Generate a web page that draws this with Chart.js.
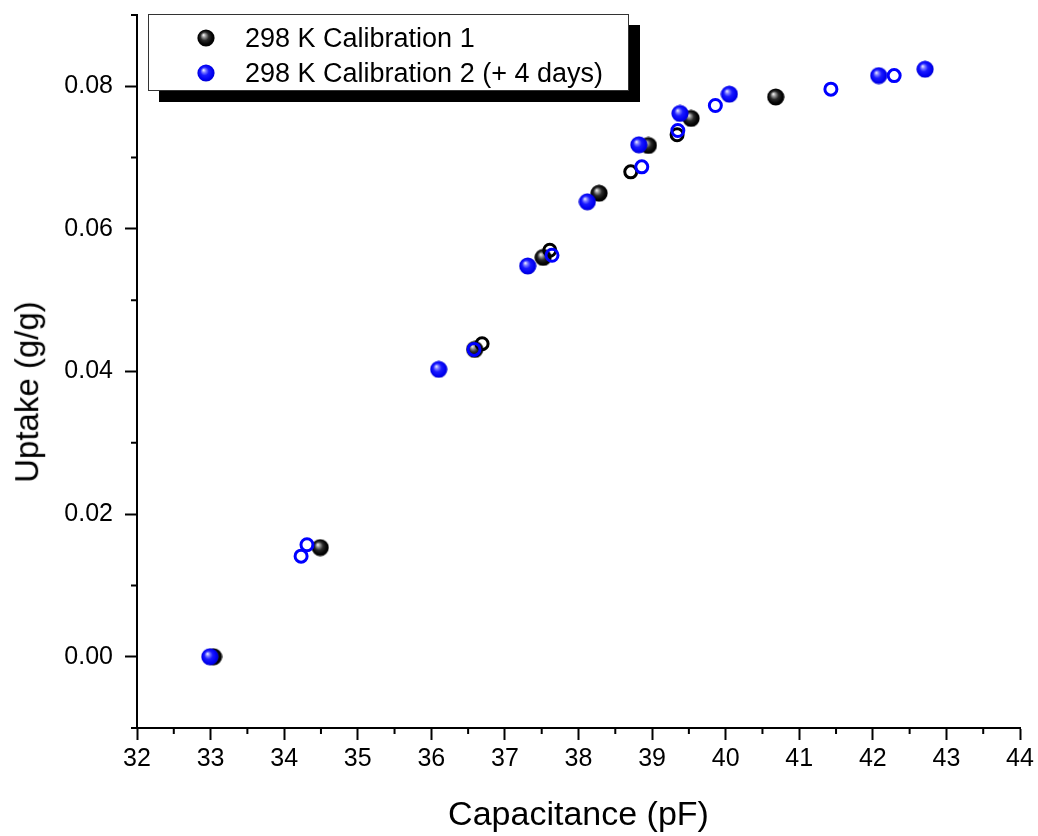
<!DOCTYPE html>
<html>
<head>
<meta charset="utf-8">
<script src="https://cdn.jsdelivr.net/npm/chart.js@4.4.1/dist/chart.umd.min.js"></script>
<style>
  html, body { margin: 0; padding: 0; background: #fff; }
  #wrap { position: relative; width: 1038px; height: 836px; }
  #legend {
    position: absolute; left: 148px; top: 14px; width: 479px; height: 75px;
    background: #fff; border: 1px solid #333; box-shadow: 11px 11px 0 #000;
    font-family: "Liberation Sans", Arial, sans-serif; font-size: 27px; color: #000;
  }
  .item { position: absolute; left: 0; height: 34px; line-height: 34px; white-space: nowrap; }
  .item img { position: absolute; left: 48px; top: 8px; width: 18px; height: 18px; }
  .item span { position: absolute; left: 96px; top: 0; }
  #ytitle {
    position: absolute; left: 27px; top: 392px; white-space: nowrap;
    font-family: "Liberation Sans", Arial, sans-serif; font-size: 33px; line-height: 1.2; color: #000;
    transform: translate(-50%, -50%) rotate(-90deg);
  }
</style>
</head>
<body>
<div id="wrap">
  <canvas id="c" width="1038" height="836"></canvas>
  <div id="legend"></div>
  <div id="ytitle"></div>
</div>
<script>
// ---- data ----
const cal1SolidX = [33.04, 34.49, 36.59, 37.52, 38.28, 38.95, 39.53, 40.68];
const cal1SolidY = [0.0000, 0.0153, 0.0431, 0.0560, 0.0650, 0.0717, 0.0755, 0.0785];

const cal1OpenX = [36.69, 37.61, 38.71, 39.34];
const cal1OpenY = [0.0439, 0.0570, 0.0680, 0.0732];

const cal2SolidX = [32.99, 36.10, 37.31, 38.12, 38.82, 39.38, 40.05, 42.08, 42.71];
const cal2SolidY = [0.0000, 0.0403, 0.0548, 0.0638, 0.0718, 0.0762, 0.0789, 0.0815, 0.0824];

const cal2OpenX = [34.23, 34.31, 36.58, 37.64, 38.86, 39.35, 39.86, 41.43, 42.29];
const cal2OpenY = [0.0141, 0.0157, 0.0431, 0.0563, 0.0687, 0.0738, 0.0773, 0.0796, 0.0815];

const seriesNames = ['298 K Calibration 1', '298 K Calibration 2 (+ 4 days)'];
const xTitle = 'Capacitance (pF)';
const yTitle = 'Uptake (g/g)';

const xTicks = [32, 33, 34, 35, 36, 37, 38, 39, 40, 41, 42, 43, 44];
const xMinorTicks = [32.5, 33.5, 34.5, 35.5, 36.5, 37.5, 38.5, 39.5, 40.5, 41.5, 42.5, 43.5];
const yTicks = [0.00, 0.02, 0.04, 0.06, 0.08];
const yTickLabels = ['0.00', '0.02', '0.04', '0.06', '0.08'];
const yMinorTicks = [-0.01, 0.01, 0.03, 0.05, 0.07, 0.09];

const FONT = '"Liberation Sans", Arial, sans-serif';

function pts(xs, ys) { return xs.map((x, i) => ({ x: x, y: ys[i] })); }

function sphere(stops) {
  const c = document.createElement('canvas');
  c.width = 18; c.height = 18;
  const g = c.getContext('2d');
  const grd = g.createRadialGradient(6.5, 6, 0.3, 9, 9, 9);
  stops.forEach(s => grd.addColorStop(s[0], s[1]));
  g.fillStyle = grd;
  g.beginPath(); g.arc(9, 9, 8.6, 0, Math.PI * 2); g.fill();
  return c;
}
const blackSphere = sphere([[0, '#f0f0f0'], [0.18, '#9a9a9a'], [0.45, '#2a2a2a'], [0.75, '#050505'], [1, '#000']]);
const blueSphere = sphere([[0, '#e8e8ff'], [0.2, '#7a7aff'], [0.45, '#1a1aff'], [0.8, '#0000f0'], [1, '#0000c8']]);

// legend
const legend = document.getElementById('legend');
[[blackSphere, seriesNames[0], 6], [blueSphere, seriesNames[1], 41]].forEach(([img, txt, top]) => {
  const d = document.createElement('div');
  d.className = 'item'; d.style.top = top + 'px';
  const im = document.createElement('img'); im.src = img.toDataURL();
  const sp = document.createElement('span'); sp.textContent = txt;
  d.appendChild(im); d.appendChild(sp); legend.appendChild(d);
});
document.getElementById('ytitle').textContent = yTitle;

const minorTickPlugin = {
  id: 'minorTicks',
  afterDraw(chart) {
    const { ctx, chartArea, scales: { x, y } } = chart;
    ctx.save();
    ctx.strokeStyle = '#000'; ctx.lineWidth = 2;
    ctx.beginPath();
    xMinorTicks.forEach(v => { const p = x.getPixelForValue(v); ctx.moveTo(p, chartArea.bottom); ctx.lineTo(p, chartArea.bottom + 6); });
    yMinorTicks.forEach(v => { const p = y.getPixelForValue(v); ctx.moveTo(chartArea.left, p); ctx.lineTo(chartArea.left - 6, p); });
    ctx.stroke();
    ctx.restore();
  }
};

const openStyle = (color) => ({
  pointStyle: 'circle', pointRadius: 6, pointBorderWidth: 3,
  pointBackgroundColor: 'rgba(0,0,0,0)', pointBorderColor: color, showLine: false
});

new Chart(document.getElementById('c'), {
  type: 'scatter',
  data: {
    datasets: [
      Object.assign({ label: seriesNames[1] + ' (open)', data: pts(cal2OpenX, cal2OpenY) }, openStyle('#0000ff')),
      { label: seriesNames[1], data: pts(cal2SolidX, cal2SolidY), pointStyle: blueSphere, pointRadius: 9, showLine: false },
      Object.assign({ label: seriesNames[0] + ' (open)', data: pts(cal1OpenX, cal1OpenY) }, openStyle('#000000')),
      { label: seriesNames[0], data: pts(cal1SolidX, cal1SolidY), pointStyle: blackSphere, pointRadius: 9, showLine: false }
    ]
  },
  options: {
    responsive: false,
    animation: false,
    devicePixelRatio: 1,
    layout: { padding: { top: 15, right: 18, left: 0, bottom: 0 } },
    plugins: { legend: { display: false }, tooltip: { enabled: false } },
    scales: {
      x: {
        type: 'linear', min: 32, max: 44,
        afterBuildTicks(s) { s.ticks = xTicks.map(v => ({ value: v })); },
        afterFit(s) { s.height = 108; s.paddingLeft = 0; s.paddingRight = 0; },
        ticks: { color: '#000', font: { family: FONT, size: 25 }, padding: 4, maxRotation: 0, autoSkip: false,
                 callback: (v) => String(v) },
        grid: { drawOnChartArea: false, drawTicks: true, tickLength: 12, tickWidth: 2, tickColor: '#000' },
        border: { display: true, color: '#000', width: 2 },
        title: { display: true, text: xTitle, color: '#000', font: { family: FONT, size: 34 }, padding: { top: 0, bottom: 0 } }
      },
      y: {
        type: 'linear', min: -0.01, max: 0.09,
        afterBuildTicks(s) { s.ticks = yTicks.map(v => ({ value: v })); },
        afterFit(s) { s.width = 137; s.paddingTop = 0; s.paddingBottom = 0; },
        ticks: { color: '#000', font: { family: FONT, size: 25 }, padding: 12, autoSkip: false,
                 callback: (v) => { const i = yTicks.findIndex(t => Math.abs(t - v) < 1e-9); return i >= 0 ? yTickLabels[i] : ''; } },
        grid: { drawOnChartArea: false, drawTicks: true, tickLength: 12, tickWidth: 2, tickColor: '#000' },
        border: { display: true, color: '#000', width: 2 },
        title: { display: false }
      }
    }
  },
  plugins: [minorTickPlugin]
});
</script>
</body>
</html>
